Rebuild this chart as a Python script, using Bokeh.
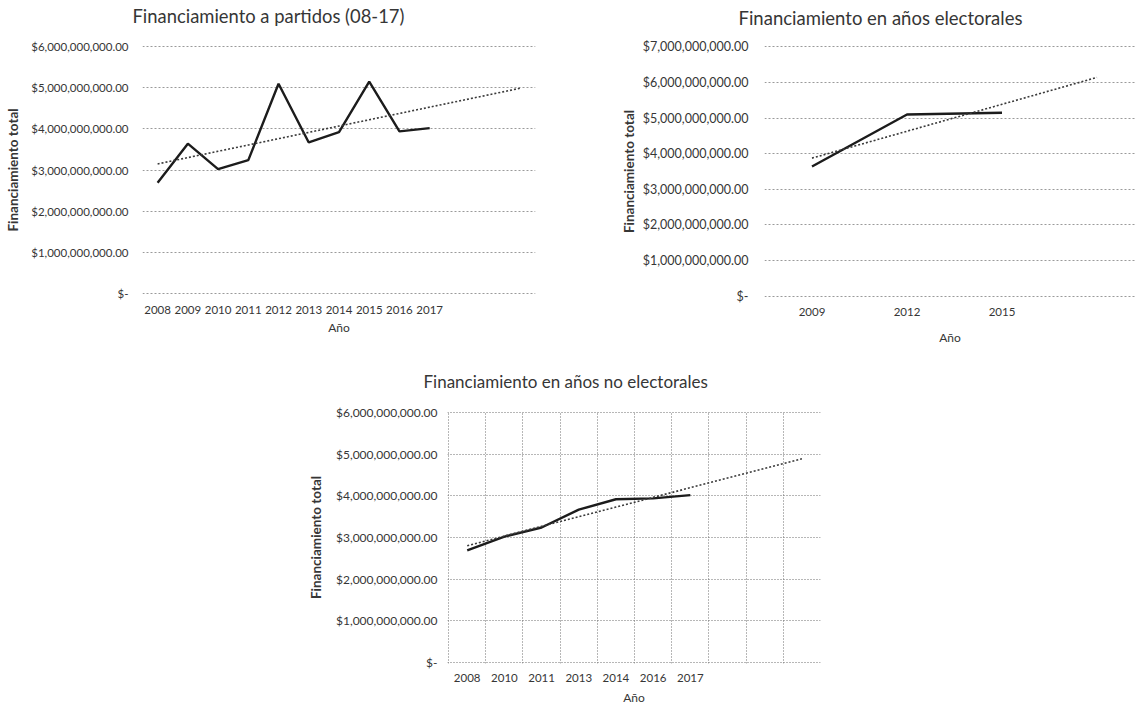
import numpy as np
from bokeh.plotting import figure
from bokeh.layouts import column, row, Spacer
from bokeh.models import FixedTicker, Title
from bokeh.embed import file_html
from bokeh.resources import INLINE

# ---------------- data ----------------
years_all = ["2008", "2009", "2010", "2011", "2012", "2013", "2014", "2015", "2016", "2017"]
total_all = [2.69e9, 3.64e9, 3.02e9, 3.24e9, 5.10e9, 3.67e9, 3.92e9, 5.15e9, 3.94e9, 4.02e9]

years_elec = ["2009", "2012", "2015"]
total_elec = [3.64e9, 5.10e9, 5.15e9]

years_noelec = ["2008", "2010", "2011", "2013", "2014", "2016", "2017"]
total_noelec = [2.69e9, 3.02e9, 3.24e9, 3.67e9, 3.92e9, 3.94e9, 4.02e9]

yticks_all = [0, 1000000000, 2000000000, 3000000000, 4000000000, 5000000000, 6000000000]
yticks_elec = [0, 1000000000, 2000000000, 3000000000, 4000000000, 5000000000, 6000000000, 7000000000]
yticks_noelec = [0, 1000000000, 2000000000, 3000000000, 4000000000, 5000000000, 6000000000]

# forward forecast periods of each linear trendline (Excel setting)
forecast_all = 3
forecast_elec = 1
forecast_noelec = 3

FONT = "Lato"
TXT = "#363636"


def money(v):
    return "$-" if v == 0 else "${:,.2f}".format(v)


def make_chart(title, cats, vals, forecast, yticks, x_start, x_end, frame, borders, st, vgrid,
               grid_color, grid_dash):
    n = len(cats)
    fw, fh = frame
    mb_left, mb_right, mb_top, mb_bottom = borders
    ypad = 0.005 * yticks[-1]
    p = figure(title=None, frame_width=fw, frame_height=fh, x_range=(x_start, x_end),
               y_range=(-ypad, yticks[-1] + ypad),
               output_backend="svg", toolbar_location=None,
               min_border_left=mb_left, min_border_right=mb_right,
               min_border_top=mb_top, min_border_bottom=mb_bottom)
    p.outline_line_color = None
    p.background_fill_color = "white"
    p.border_fill_color = "white"

    # gap between the plot area and the chart title
    p.add_layout(Title(text=" ", text_font_size="1px", standoff=st["title_gap"]), "above")
    # chart title
    p.add_layout(Title(text=title, align="left", offset=st["title_offset"], standoff=0,
                       text_font=FONT, text_font_size=st["title_size"],
                       text_font_style="normal", text_color=TXT), "above")

    # y axis
    yax = p.yaxis[0]
    yax.ticker = FixedTicker(ticks=yticks)
    yax.major_label_overrides = {t: money(t) for t in yticks}
    yax.axis_line_color = None
    yax.major_tick_line_color = None
    yax.minor_tick_line_color = None
    yax.major_tick_out = 0
    yax.major_tick_in = 0
    yax.minor_tick_out = 0
    yax.major_label_standoff = st["ylab_standoff"]
    yax.major_label_text_font = FONT
    yax.major_label_text_font_size = st["ylab_size"]
    yax.major_label_text_color = TXT
    yax.axis_label = "Financiamiento total"
    yax.axis_label_standoff = st["ytitle_standoff"]
    yax.axis_label_text_font = FONT
    yax.axis_label_text_font_size = "13.5px"
    yax.axis_label_text_font_style = "bold"
    yax.axis_label_text_color = TXT

    # x axis
    xax = p.xaxis[0]
    xax.ticker = FixedTicker(ticks=list(range(n)))
    xax.major_label_overrides = {i: c for i, c in enumerate(cats)}
    xax.axis_line_color = None
    xax.major_tick_line_color = None
    xax.minor_tick_line_color = None
    xax.major_tick_out = 0
    xax.major_tick_in = 0
    xax.minor_tick_out = 0
    xax.major_label_standoff = st["xlab_standoff"]
    xax.major_label_text_font = FONT
    xax.major_label_text_font_size = st["xlab_size"]
    xax.major_label_text_color = TXT
    xax.axis_label = "Año"
    xax.axis_label_standoff = st["xtitle_standoff"]
    xax.axis_label_text_font = FONT
    xax.axis_label_text_font_size = "12px"
    xax.axis_label_text_font_style = "normal"
    xax.axis_label_text_color = TXT

    # grid
    p.ygrid.ticker = FixedTicker(ticks=yticks)
    p.ygrid.grid_line_color = grid_color
    p.ygrid.grid_line_dash = grid_dash
    p.ygrid.grid_line_width = 1
    if vgrid:
        p.xgrid.ticker = FixedTicker(ticks=[i - 0.5 for i in range(n + forecast + 1)])
        p.xgrid.grid_line_color = grid_color
        p.xgrid.grid_line_dash = grid_dash
        p.xgrid.grid_line_width = 1
    else:
        p.xgrid.visible = False

    # data line
    idx = np.arange(n)
    p.line(x=idx, y=vals, line_color="#1c1c1c", line_width=2.4)

    # linear trendline with forward forecast
    slope, intercept = np.polyfit(idx, np.array(vals, dtype=float), 1)
    tidx = np.arange(n + forecast)
    p.line(x=tidx, y=intercept + slope * tidx, line_color="#3a3a3a", line_width=1.6,
           line_dash="2 2")
    return p


p1 = make_chart("Financiamiento a partidos (08-17)",
                years_all, total_all, forecast_all, yticks_all, -0.5, 12.5,
                (393, 249), (142, 25, 45, 56),
                dict(title_gap=16, title_offset=-10, title_size="18.4px",
                     ylab_standoff=14, ylab_size="11.5px", ytitle_standoff=7,
                     xlab_standoff=11, xlab_size="11.5px", xtitle_standoff=3),
                False, "#9a9a9a", "2 2")

p2 = make_chart("Financiamiento en años electorales",
                years_elec, total_elec, forecast_elec, yticks_elec, -0.5, 3.405,
                (371, 252), (204, 0, 45, 53),
                dict(title_gap=14, title_offset=-26, title_size="18.5px",
                     ylab_standoff=16, ylab_size="12.5px", ytitle_standoff=3,
                     xlab_standoff=10, xlab_size="11.5px", xtitle_standoff=11),
                False, "#9a9a9a", "2 2")

p3 = make_chart("Financiamiento en años no electorales",
                years_noelec, total_noelec, forecast_noelec, yticks_noelec, -0.53, 9.5,
                (373, 252), (149, 20, 61, 44),
                dict(title_gap=17, title_offset=-24, title_size="17px",
                     ylab_standoff=10, ylab_size="12px", ytitle_standoff=9,
                     xlab_standoff=10, xlab_size="11.5px", xtitle_standoff=5),
                True, "#6e6e6e", "1 2")

layout = column(row(p1, p2), row(Spacer(width=298, height=357), p3))

open("out.html", "w").write(file_html(layout, INLINE))
